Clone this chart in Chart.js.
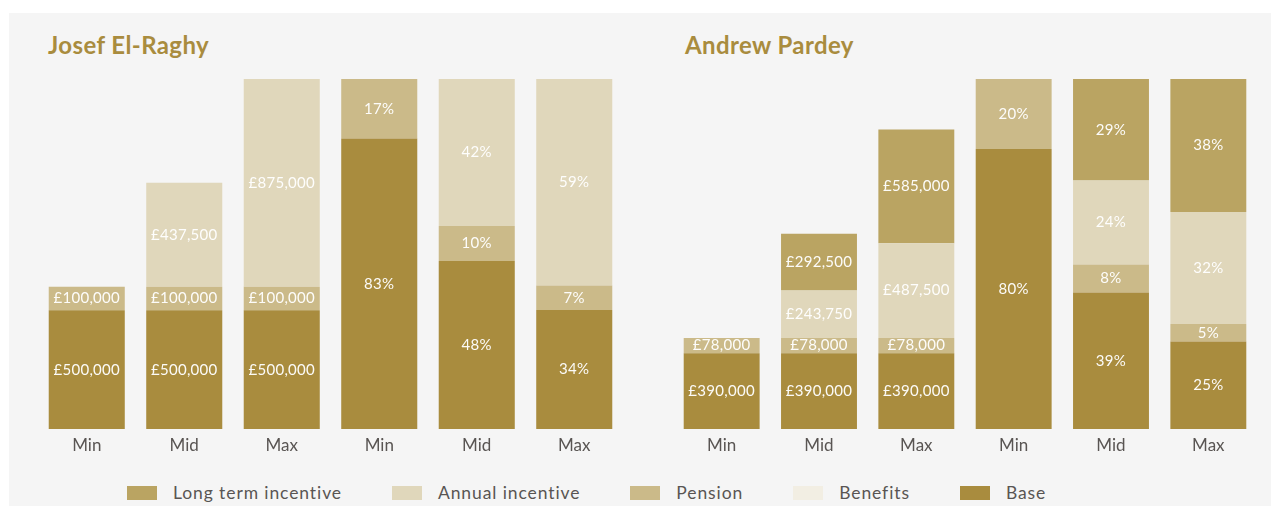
<!DOCTYPE html>
<html>
<head>
<meta charset="utf-8">
<title>Remuneration scenarios</title>
<script src="https://cdn.jsdelivr.net/npm/chart.js@4.4.1/dist/chart.umd.min.js"></script>
<style>
  body { margin: 0; background: #fff; font-family: Lato, 'Open Sans', sans-serif; }
  .panel { position: absolute; left: 9px; top: 13px; width: 1262px; height: 493px; background: #f5f5f5; }
  .name { position: absolute; top: 17px; font-size: 24px; font-weight: 700; letter-spacing: 0.4px; color: #a98c3e; }
  .chart-box { position: absolute; top: 56px; height: 391px; }
  .legend { position: absolute; left: 118px; top: 469px; display: flex; gap: 50px; font-size: 17.5px; letter-spacing: 0.9px; color: #595553; }
  .legend-item { display: flex; align-items: center; }
  .legend-item span { display: inline-block; width: 30px; height: 14px; margin-right: 16px; }
</style>
</head>
<body>
<div class="panel">
  <div class="name" style="left: 39px;">Josef El-Raghy</div>
  <div class="name" style="left: 676px;">Andrew Pardey</div>
  <div class="chart-box" style="left: 29px; width: 585px;"><canvas id="josefChart"></canvas></div>
  <div class="chart-box" style="left: 664px; width: 584px;"><canvas id="andrewChart"></canvas></div>
  <div class="legend" id="legend"></div>
</div>
<script>
// Scenario labels: first three bars are amounts, last three the percentage mix
const categories = ['Min', 'Mid', 'Max', 'Min', 'Mid', 'Max'];

// Josef El-Raghy - amounts (£)
const josefBase = [500000, 500000, 500000];
const josefPension = [100000, 100000, 100000];
const josefAnnual = [null, 437500, 875000];
const josefLti = [null, null, null];
// Josef El-Raghy - mix (%)
const josefBasePct = [83, 48, 34];
const josefPensionPct = [17, 10, 7];
const josefAnnualPct = [null, 42, 59];
const josefLtiPct = [null, null, null];

// Andrew Pardey - amounts (£)
const andrewBase = [390000, 390000, 390000];
const andrewPension = [78000, 78000, 78000];
const andrewAnnual = [null, 243750, 487500];
const andrewLti = [null, 292500, 585000];
// Andrew Pardey - mix (%)
const andrewBasePct = [80, 39, 25];
const andrewPensionPct = [20, 8, 5];
const andrewAnnualPct = [null, 24, 32];
const andrewLtiPct = [null, 29, 38];

const colors = {
    lti: '#baa462',
    annual: '#e0d7bb',
    pension: '#cbba89',
    benefits: '#f2eee3',
    base: '#a98c3e'
};

const legendItems = [
    ['Long term incentive', colors.lti],
    ['Annual incentive', colors.annual],
    ['Pension', colors.pension],
    ['Benefits', colors.benefits],
    ['Base', colors.base]
];

// writes the value in the middle of every segment
const segmentLabels = {
    id: 'segmentLabels',
    afterDatasetsDraw(chart) {
        const ctx = chart.ctx;
        ctx.save();
        ctx.font = '15px Lato';
        ctx.letterSpacing = '0.3px';
        ctx.fillStyle = 'rgba(255, 255, 255, 0.96)';
        ctx.textAlign = 'center';
        ctx.textBaseline = 'middle';
        chart.data.datasets.forEach((ds, i) => {
            const meta = chart.getDatasetMeta(i);
            meta.data.forEach((bar, j) => {
                const v = ds.data[j];
                if (v == null) return;
                const text = ds.yAxisID === 'pct' ? v + '%' : '£' + v.toLocaleString('en-GB');
                ctx.fillText(text, bar.x, (bar.y + bar.base) / 2);
            });
        });
        ctx.restore();
    }
};

function makeDatasets(amounts, pcts) {
    const order = ['base', 'pension', 'annual', 'lti'];
    const sets = [];
    order.forEach((key, i) => {
        sets.push({
            label: key,
            data: [...amounts[i], null, null, null],
            backgroundColor: colors[key],
            yAxisID: 'y'
        });
    });
    order.forEach((key, i) => {
        sets.push({
            label: key + ' %',
            data: [null, null, null, ...pcts[i]],
            backgroundColor: colors[key],
            yAxisID: 'pct'
        });
    });
    return sets;
}

function makeChart(id, datasets, amountMax) {
    new Chart(document.getElementById(id), {
        type: 'bar',
        data: { labels: categories, datasets: datasets },
        options: {
            responsive: true,
            maintainAspectRatio: false,
            animation: false,
            layout: { padding: { top: 10, left: 0, right: 0, bottom: 0 } },
            datasets: { bar: { barPercentage: 0.78, categoryPercentage: 1, borderWidth: 0 } },
            plugins: {
                legend: { display: false },
                tooltip: { enabled: false }
            },
            scales: {
                x: {
                    stacked: true,
                    grid: { display: false, drawTicks: false },
                    border: { display: false },
                    ticks: {
                        color: '#595553',
                        font: { family: 'Lato', size: 17 },
                        padding: 6
                    },
                    afterFit(scale) { scale.height = 31; }
                },
                y: { display: false, stacked: true, min: 0, max: amountMax },
                pct: { display: false, stacked: true, min: 0, max: 100 }
            }
        },
        plugins: [segmentLabels]
    });
}

makeChart('josefChart',
    makeDatasets([josefBase, josefPension, josefAnnual, josefLti],
                 [josefBasePct, josefPensionPct, josefAnnualPct, josefLtiPct]),
    1475000);

makeChart('andrewChart',
    makeDatasets([andrewBase, andrewPension, andrewAnnual, andrewLti],
                 [andrewBasePct, andrewPensionPct, andrewAnnualPct, andrewLtiPct]),
    1800000);

// shared legend under both charts
const legend = document.getElementById('legend');
legendItems.forEach(([label, color]) => {
    const item = document.createElement('div');
    item.className = 'legend-item';
    item.innerHTML = '<span style="background:' + color + '"></span>' + label;
    legend.appendChild(item);
});
</script>
</body>
</html>
